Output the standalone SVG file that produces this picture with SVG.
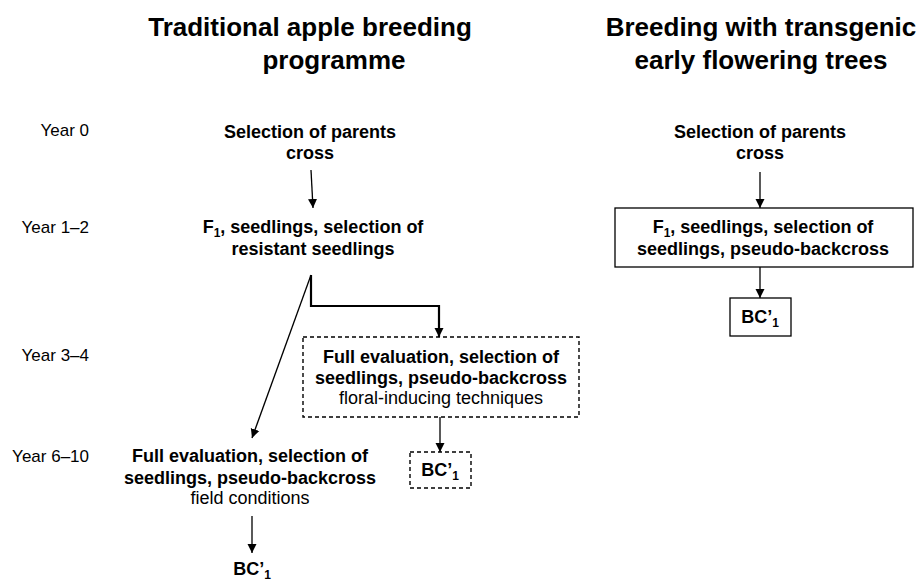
<svg xmlns="http://www.w3.org/2000/svg" width="920" height="583" viewBox="0 0 920 583">
<style>
text{font-family:"Liberation Sans",Arial,sans-serif;fill:#000}
.t{font-size:26px;font-weight:bold;text-anchor:middle}
.y{font-size:17px;text-anchor:end}
.b{font-size:18px;font-weight:bold;text-anchor:middle}
.r{font-size:18px;text-anchor:middle}
.box{fill:none;stroke:#000;stroke-width:1.3}
.dash{fill:none;stroke:#000;stroke-width:1.4;stroke-dasharray:4 3}
.ln{fill:none;stroke:#000;stroke-width:1.3}
.thick{fill:none;stroke:#000;stroke-width:2.2}
</style>
<defs>
<marker id="ah" viewBox="0 0 10 10" refX="10" refY="5" markerWidth="9" markerHeight="10" markerUnits="userSpaceOnUse" orient="auto">
<path d="M0,0 L10,5 L0,10 z" fill="#000"/>
</marker>
</defs>
<rect width="920" height="583" fill="#fff"/>
<g id="titles">
<text class="t" x="310" y="36">Traditional apple breeding</text>
<text class="t" x="334" y="69">programme</text>
<text class="t" x="761" y="36">Breeding with transgenic</text>
<text class="t" x="761" y="69">early flowering trees</text>
</g>
<g id="years">
<text class="y" x="89" y="136">Year 0</text>
<text class="y" x="89" y="233">Year 1–2</text>
<text class="y" x="89" y="361">Year 3–4</text>
<text class="y" x="89" y="462">Year 6–10</text>
</g>
<g id="left-parents">
<text class="b" x="310" y="138">Selection of parents</text>
<text class="b" x="310" y="159">cross</text>
</g>
<g id="left-f1">
<text class="b" x="313" y="233">F<tspan font-size="12" dy="4">1</tspan><tspan dy="-4">, seedlings, selection of</tspan></text>
<text class="b" x="313" y="255">resistant seedlings</text>
</g>
<g id="left-eval-floral">
<rect class="dash" x="303" y="337" width="276" height="80"/>
<text class="b" x="441" y="363">Full evaluation, selection of</text>
<text class="b" x="441" y="384">seedlings, pseudo-backcross</text>
<text class="r" x="441" y="404">floral-inducing techniques</text>
</g>
<g id="left-bc-floral">
<rect class="dash" x="410" y="452" width="61" height="36"/>
<text class="b" x="440" y="476">BC’<tspan font-size="12" dy="4">1</tspan></text>
</g>
<g id="left-eval-field">
<text class="b" x="250" y="462">Full evaluation, selection of</text>
<text class="b" x="250" y="484">seedlings, pseudo-backcross</text>
<text class="r" x="250" y="504">field conditions</text>
</g>
<g id="left-bc-field">
<text class="b" x="252" y="575">BC’<tspan font-size="12" dy="4">1</tspan></text>
</g>
<g id="right-parents">
<text class="b" x="760" y="138">Selection of parents</text>
<text class="b" x="760" y="159">cross</text>
</g>
<g id="right-f1">
<rect class="box" x="615" y="208" width="298" height="59"/>
<text class="b" x="763" y="233">F<tspan font-size="12" dy="4">1</tspan><tspan dy="-4">, seedlings, selection of</tspan></text>
<text class="b" x="763" y="255">seedlings, pseudo-backcross</text>
</g>
<g id="right-bc">
<rect class="box" x="730" y="298" width="61" height="38"/>
<text class="b" x="760" y="323">BC’<tspan font-size="12" dy="4">1</tspan></text>
</g>
<g id="connectors">
<path class="ln" d="M311,170 L313,208" marker-end="url(#ah)"/>
<path class="ln" d="M760,172 L760,208" marker-end="url(#ah)"/>
<path class="ln" d="M760,267 L760,298" marker-end="url(#ah)"/>
<path class="ln" d="M311,275 L252,438" marker-end="url(#ah)"/>
<path class="thick" d="M311,275 V306 H439 V337" marker-end="url(#ah)"/>
<path class="ln" d="M440,417 L440,452" marker-end="url(#ah)"/>
<path class="ln" d="M252,516 L252,553" marker-end="url(#ah)"/>
</g>
</svg>
